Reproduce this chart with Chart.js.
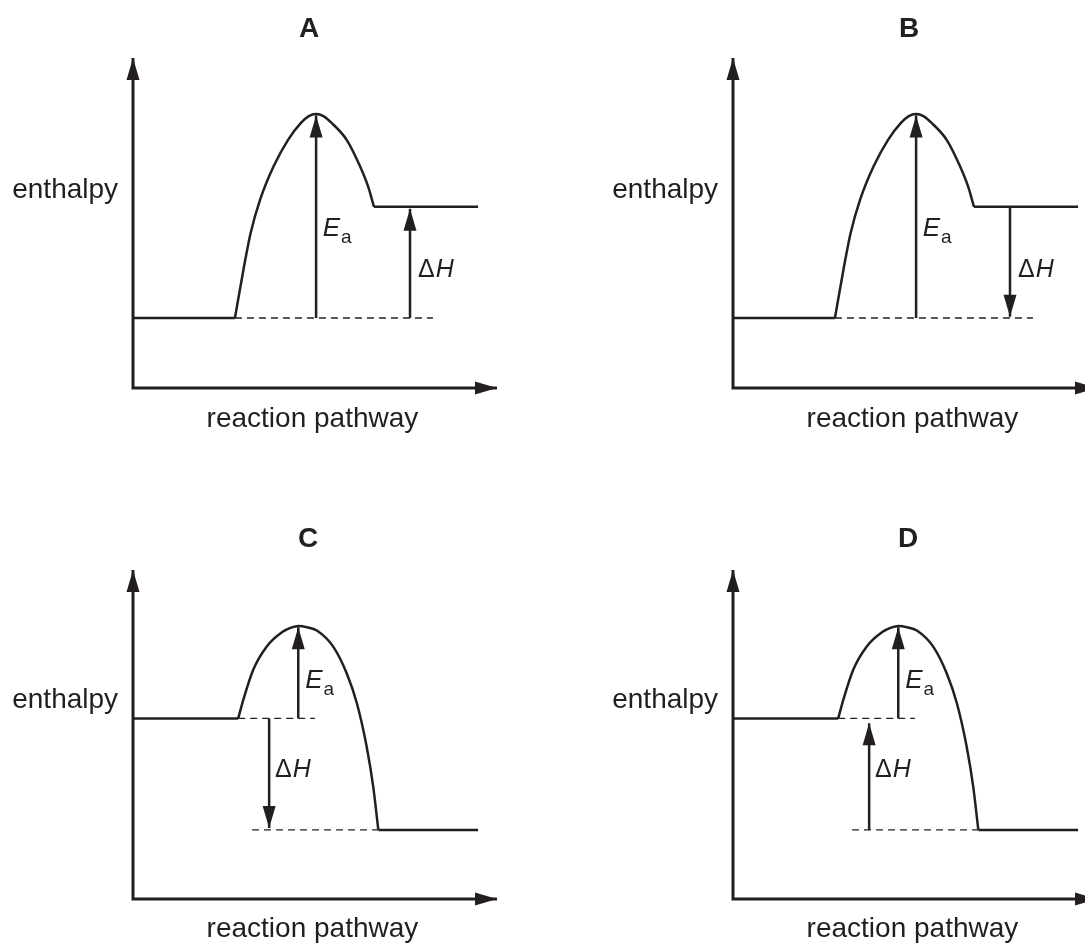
<!DOCTYPE html>
<html>
<head>
<meta charset="utf-8">
<script src="https://cdn.jsdelivr.net/npm/chart.js@4.4.0/dist/chart.umd.min.js"></script>
<style>
	html, body { margin: 0; padding: 0; background: #fff; overflow: hidden; }
	#page { position: relative; width: 1085px; height: 944px; overflow: hidden; }
	#page canvas { position: absolute; }
</style>
</head>
<body>
<div id="page">
	<canvas id="chartA" width="600" height="472" style="left:0;top:0"></canvas>
	<canvas id="chartB" width="600" height="472" style="left:600px;top:0"></canvas>
	<canvas id="chartC" width="600" height="472" style="left:0;top:472px"></canvas>
	<canvas id="chartD" width="600" height="472" style="left:600px;top:472px"></canvas>
</div>
<script>
'use strict'

var titles = ['A', 'B', 'C', 'D'];
var xTitle = 'reaction pathway';
var yTitle = 'enthalpy';

// A, B : products higher than reactants
var upReactants = [{x: 0, y: 21.2}, {x: 28.0, y: 21.2}];
var upBarrier = [
	{x: 28.0, y: 21.2}, {x: 30.5, y: 36.8}, {x: 32.3, y: 46.9}, {x: 34.9, y: 57.0},
	{x: 38.6, y: 67.1}, {x: 42.6, y: 75.2}, {x: 46.2, y: 80.4}, {x: 48.3, y: 82.4},
	{x: 50.3, y: 83.0}, {x: 52.3, y: 82.4}, {x: 54.5, y: 80.4}, {x: 58.7, y: 75.2},
	{x: 62.4, y: 67.1}, {x: 64.6, y: 61.0}, {x: 66.2, y: 54.9}
];
var upProducts = [{x: 66.2, y: 54.9}, {x: 94.8, y: 54.9}];
var upDash = [{x: 28.0, y: 21.2}, {x: 82.4, y: 21.2}];

// C, D : products lower than reactants
var downReactants = [{x: 0, y: 54.9}, {x: 28.9, y: 54.9}];
var downBarrier = [
	{x: 28.9, y: 54.9}, {x: 30.3, y: 60.5}, {x: 33.0, y: 69.6}, {x: 36.7, y: 76.7},
	{x: 41.1, y: 81.2}, {x: 43.4, y: 82.5}, {x: 45.5, y: 83.0}, {x: 47.8, y: 82.6},
	{x: 50.5, y: 81.6}, {x: 55.0, y: 76.7}, {x: 58.7, y: 68.6}, {x: 61.5, y: 59.5},
	{x: 64.2, y: 46.3}, {x: 66.0, y: 34.1}, {x: 67.4, y: 21.0}
];
var downProducts = [{x: 67.4, y: 21.0}, {x: 94.8, y: 21.0}];
var downDashTop = [{x: 28.9, y: 54.9}, {x: 50.0, y: 54.9}];
var downDashBottom = [{x: 32.7, y: 21.0}, {x: 67.4, y: 21.0}];

// arrows: [x, from, to]
var eaUp = [50.3, 21.2, 82.6];
var eaDown = [45.4, 54.9, 82.6];
var dhA = [76.1, 21.2, 54.3];
var dhB = [76.1, 54.9, 21.6];
var dhC = [37.4, 54.9, 21.6];
var dhD = [37.4, 21.0, 53.4];

var ink = '#231f20';
var fontName = '"Liberation Sans", Arial, sans-serif';

// text anchors (axis units) for the top and bottom rows
var topText = { title: [48.4, 106.4], y: [-4.1, 57.7], x: [49.3, -11.8], ea: [52.1, 46.0], dh: [78.3, 33.7] };
var bottomText = { title: [48.1, 107.0], y: [-4.1, 58.2], x: [49.3, -11.6], ea: [47.3, 64.0], dh: [39.0, 37.1] };

var panels = [
	{ id: 'chartA', title: titles[0], reac: upReactants, barrier: upBarrier, prod: upProducts, dashes: [upDash], ea: eaUp, dh: dhA, text: topText, row: 0 },
	{ id: 'chartB', title: titles[1], reac: upReactants, barrier: upBarrier, prod: upProducts, dashes: [upDash], ea: eaUp, dh: dhB, text: topText, row: 0 },
	{ id: 'chartC', title: titles[2], reac: downReactants, barrier: downBarrier, prod: downProducts, dashes: [downDashTop, downDashBottom], ea: eaDown, dh: dhC, text: bottomText, row: 1 },
	{ id: 'chartD', title: titles[3], reac: downReactants, barrier: downBarrier, prod: downProducts, dashes: [downDashTop, downDashBottom], ea: eaDown, dh: dhD, text: bottomText, row: 1 }
];

function arrowPoints (a) {
	return [{x: a[0], y: a[1]}, {x: a[0], y: a[2]}];
}

function lineSet (data, width, extra) {
	var ds = {
		data: data,
		showLine: true,
		borderColor: ink,
		borderWidth: width,
		pointRadius: 0,
		pointHoverRadius: 0,
		fill: false,
		clip: false,
		tension: 0
	};
	for (var k in extra) ds[k] = extra[k];
	return ds;
}

function drawHead (ctx, fx, fy, tx, ty) {
	var len = 22, half = 6.5;
	var dx = tx - fx, dy = ty - fy, d = Math.sqrt(dx * dx + dy * dy);
	var ux = dx / d, uy = dy / d;
	var bx = tx - ux * len, by = ty - uy * len;
	ctx.beginPath();
	ctx.moveTo(tx, ty);
	ctx.lineTo(bx - uy * half, by + ux * half);
	ctx.lineTo(bx + uy * half, by - ux * half);
	ctx.closePath();
	ctx.fill();
}

var diagramPlugin = {
	id: 'diagram',
	afterDatasetsDraw: function (chart) {
		var ctx = chart.ctx, xs = chart.scales.x, ys = chart.scales.y;
		ctx.save();
		ctx.fillStyle = ink;
		chart.data.datasets.forEach(function (ds) {
			var p = ds.data, n = p.length;
			if (ds.arrowEnd) {
				drawHead(ctx, xs.getPixelForValue(p[n - 2].x), ys.getPixelForValue(p[n - 2].y),
					xs.getPixelForValue(p[n - 1].x), ys.getPixelForValue(p[n - 1].y));
			}
			if (ds.arrowStart) {
				drawHead(ctx, xs.getPixelForValue(p[1].x), ys.getPixelForValue(p[1].y),
					xs.getPixelForValue(p[0].x), ys.getPixelForValue(p[0].y));
			}
		});

		var o = chart.options.plugins.diagram, t = o.text;
		function px (pos) { return [xs.getPixelForValue(pos[0]), ys.getPixelForValue(pos[1])]; }
		ctx.textBaseline = 'alphabetic';

		// panel letter
		var p = px(t.title);
		ctx.font = 'bold 28px ' + fontName;
		ctx.textAlign = 'center';
		ctx.fillText(o.title, p[0], p[1]);

		// axis names
		ctx.font = '28px ' + fontName;
		p = px(t.x);
		ctx.fillText(xTitle, p[0], p[1]);
		p = px(t.y);
		ctx.textAlign = 'right';
		ctx.fillText(yTitle, p[0], p[1]);

		// E_a
		ctx.textAlign = 'left';
		p = px(t.ea);
		ctx.font = 'italic 26px ' + fontName;
		ctx.fillText('E', p[0], p[1]);
		var w = ctx.measureText('E').width;
		ctx.font = '19px ' + fontName;
		ctx.fillText('a', p[0] + w + 1, p[1] + 7);

		// ΔH
		p = px(t.dh);
		ctx.font = '25px ' + fontName;
		ctx.fillText('\u0394', p[0], p[1]);
		w = ctx.measureText('\u0394').width;
		ctx.font = 'italic 25px ' + fontName;
		ctx.fillText('H', p[0] + w + 1, p[1]);
		ctx.restore();
	}
};

function buildPanel (cfg) {
	var sets = [
		lineSet([{x: 0, y: 100}, {x: 0, y: 0}, {x: 100, y: 0}], 3, { arrowStart: true, arrowEnd: true, borderJoinStyle: 'miter' }),
		lineSet(cfg.reac, 2.5),
		lineSet(cfg.barrier, 2.5, { cubicInterpolationMode: 'monotone' }),
		lineSet(cfg.prod, 2.5)
	];
	cfg.dashes.forEach(function (d) {
		sets.push(lineSet(d, 1.4, { borderDash: [7, 5] }));
	});
	sets.push(lineSet(arrowPoints(cfg.ea), 2.5, { arrowEnd: true }));
	sets.push(lineSet(arrowPoints(cfg.dh), 2.5, { arrowEnd: true }));

	var pad = cfg.row === 0
		? { left: 133, right: 103, top: 58, bottom: 84 }
		: { left: 133, right: 103, top: 98, bottom: 45 };

	return new Chart(document.getElementById(cfg.id), {
		type: 'scatter',
		data: { datasets: sets },
		options: {
			responsive: false,
			animation: false,
			devicePixelRatio: 1,
			events: [],
			layout: { padding: pad },
			scales: {
				x: { type: 'linear', min: 0, max: 100, display: false },
				y: { type: 'linear', min: 0, max: 100, display: false }
			},
			plugins: {
				legend: { display: false },
				tooltip: { enabled: false },
				diagram: { title: cfg.title, text: cfg.text }
			}
		},
		plugins: [diagramPlugin]
	});
}

panels.forEach(buildPanel);
</script>
</body>
</html>
